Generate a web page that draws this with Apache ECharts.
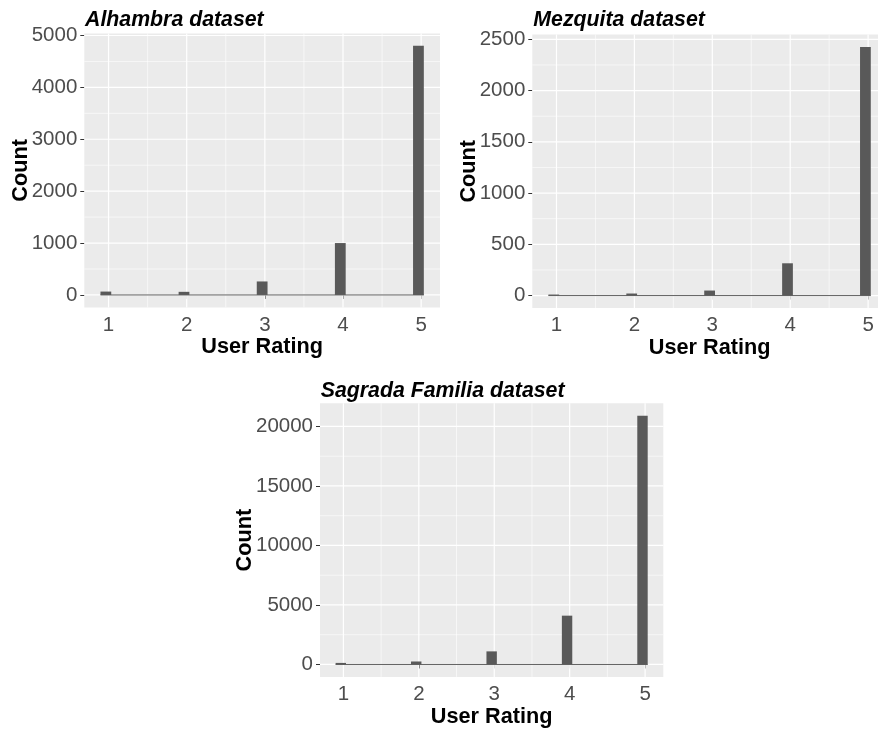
<!DOCTYPE html>
<html><head><meta charset="utf-8">
<script src="https://cdn.jsdelivr.net/npm/echarts@6/dist/echarts.min.js"></script>
<style>html,body{margin:0;padding:0;background:#fff}#c{width:878px;height:729px}</style>
</head><body><div id="c"></div>
<script>
// ---- data ----
const ratings = [1, 2, 3, 4, 5];
const alhambraCounts = [65, 60, 260, 1000, 4800];
const mezquitaCounts = [10, 20, 49, 315, 2425];
const sagradaCounts = [130, 250, 1100, 4100, 20900];
const xTickLabels = [1, 2, 3, 4, 5];
const alhambraTicks = [0, 1000, 2000, 3000, 4000, 5000];
const mezquitaTicks = [0, 500, 1000, 1500, 2000, 2500];
const sagradaTicks = [0, 5000, 10000, 15000, 20000];
const titles = ['Alhambra dataset', 'Mezquita dataset', 'Sagrada Familia dataset'];
const xName = 'User Rating';
const yName = 'Count';

// ---- layout / style ----
const FONT = '"Liberation Sans", Arial, sans-serif';
const BIN = (ratings[ratings.length - 1] - ratings[0]) / 29;
const binStart = ratings[0] - 0.75 * BIN;
const binEnd = ratings[ratings.length - 1] + 0.25 * BIN;
const xPad = 0.05 * (binEnd - binStart);
const xMin = binStart - xPad, xMax = binEnd + xPad;

const panels = [
  { title: titles[0], counts: alhambraCounts, ticks: alhambraTicks, yGap: 52,
    grid: { left: 84.3, top: 33.4, width: 355.7, height: 274 }, titlePos: { left: 85, top: 10 } },
  { title: titles[1], counts: mezquitaCounts, ticks: mezquitaTicks, yGap: 52,
    grid: { left: 532.3, top: 34.6, width: 354.6, height: 273.4 }, titlePos: { left: 533.3, top: 10 } },
  { title: titles[2], counts: sagradaCounts, ticks: sagradaTicks, yGap: 64,
    grid: { left: 320, top: 403.3, width: 343.3, height: 273.6 }, titlePos: { left: 320.7, top: 380.5 } }
];

function minorVals(ticks, lo, hi) {
  const step = ticks[1] - ticks[0];
  const out = [];
  for (let v = ticks[0] - step / 2; v <= ticks[ticks.length - 1] + step / 2 + 1e-9; v += step) {
    if (v > lo && v < hi) out.push(v);
  }
  return out;
}

const option = {
  animation: false,
  backgroundColor: '#ffffff',
  title: [], grid: [], xAxis: [], yAxis: [], series: []
};

panels.forEach((p, i) => {
  const maxC = Math.max.apply(null, p.counts);
  const yMin = -0.05 * maxC, yMax = 1.05 * maxC;
  option.title.push({
    text: p.title, left: p.titlePos.left, top: p.titlePos.top, padding: 0,
    textStyle: { fontFamily: FONT, fontSize: 21.3, fontWeight: 'bold', fontStyle: 'italic', color: '#000' }
  });
  option.grid.push(Object.assign({ show: true, backgroundColor: '#EBEBEB', borderWidth: 0, outerBoundsMode: 'none', containLabel: false }, p.grid));
  option.xAxis.push({
    type: 'value', gridIndex: i, min: xMin, max: xMax,
    name: xName, nameLocation: 'middle', nameGap: 29, nameMoveOverlap: false,
    nameTextStyle: { fontFamily: FONT, fontSize: 21.7, fontWeight: 'bold', color: '#000' },
    axisLine: { show: false },
    axisTick: { show: true, length: 4, customValues: xTickLabels, lineStyle: { color: '#333333', width: 1 } },
    axisLabel: { show: true, customValues: xTickLabels, margin: 7, fontFamily: FONT, fontSize: 20.5, color: '#4D4D4D',
      formatter: v => String(v) },
    splitLine: { show: false }
  });
  option.yAxis.push({
    type: 'value', gridIndex: i, min: yMin, max: yMax,
    name: yName, nameLocation: 'middle', nameGap: p.yGap, nameRotate: 90, nameMoveOverlap: false,
    nameTextStyle: { fontFamily: FONT, fontSize: 21.7, fontWeight: 'bold', color: '#000' },
    axisLine: { show: false },
    axisTick: { show: true, length: 4, customValues: p.ticks, lineStyle: { color: '#333333', width: 1 } },
    axisLabel: { show: true, customValues: p.ticks, margin: 7, fontFamily: FONT, fontSize: 20.5, color: '#4D4D4D',
      formatter: v => String(Math.round(v)) },
    splitLine: { show: false }
  });
  // grid lines: [value, vertical?, major?]
  const gl = [];
  minorVals(xTickLabels, xMin, xMax).forEach(v => gl.push([v, 1, 0]));
  minorVals(p.ticks, yMin, yMax).forEach(v => gl.push([v, 0, 0]));
  xTickLabels.forEach(v => gl.push([v, 1, 1]));
  p.ticks.forEach(v => gl.push([v, 0, 1]));
  option.series.push({
    type: 'custom', xAxisIndex: i, yAxisIndex: i, z: 1, silent: true,
    data: gl.map(g => ({ value: g })),
    encode: { x: -1, y: -1 },
    renderItem: function (params, api) {
      const cs = params.coordSys;
      const v = api.value(0), vert = api.value(1), major = api.value(2);
      const lw = major ? 1.2 : 0.6;
      if (vert) {
        const x = api.coord([v, 0])[0];
        return { type: 'line', shape: { x1: x, y1: cs.y, x2: x, y2: cs.y + cs.height }, style: { stroke: '#ffffff', lineWidth: lw } };
      } else {
        const y = api.coord([ratings[0], v])[1];
        return { type: 'line', shape: { x1: cs.x, y1: y, x2: cs.x + cs.width, y2: y }, style: { stroke: '#ffffff', lineWidth: lw } };
      }
    }
  });
  // baseline of empty bins
  option.series.push({
    type: 'line', xAxisIndex: i, yAxisIndex: i, z: 2, silent: true, symbol: 'none',
    data: [[binStart, 0], [binEnd, 0]],
    lineStyle: { color: '#5f5f5f', width: 1 }
  });
  // histogram bars
  option.series.push({
    type: 'custom', xAxisIndex: i, yAxisIndex: i, z: 3, silent: true,
    data: ratings.map((r, k) => [r, p.counts[k]]),
    encode: { x: 0, y: 1 },
    renderItem: function (params, api) {
      const r = api.value(0), c = api.value(1);
      const p0 = api.coord([r - 0.75 * BIN, c]);
      const p1 = api.coord([r + 0.25 * BIN, 0]);
      return { type: 'rect', shape: { x: p0[0], y: p0[1], width: p1[0] - p0[0], height: p1[1] - p0[1] }, style: { fill: '#595959' } };
    }
  });
});

const chart = echarts.init(document.getElementById('c'), null, { renderer: 'canvas' });
chart.setOption(option);
</script>
</body></html>
